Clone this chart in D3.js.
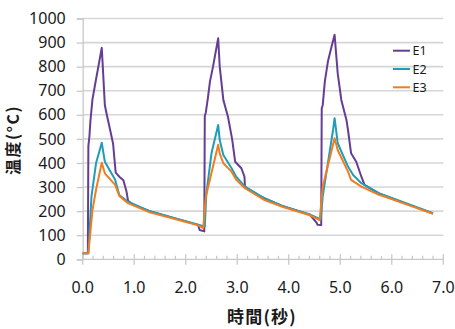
<!DOCTYPE html>
<html>
<head>
<meta charset="utf-8">
<script src="https://cdn.jsdelivr.net/npm/d3@7/dist/d3.min.js"></script>
<style>
  html, body { margin: 0; padding: 0; background: #fff; }
  svg { display: block; }
</style>
</head>
<body>
<svg id="chart" width="455" height="329"></svg>
<script>
// Temperature histories [time (s), temperature (°C)] for the three measuring points
const e1 = [[0,25],[0.10,25],[0.11,470],[0.13,510],[0.15,575],[0.19,665],[0.24,725],[0.37,878],[0.39,800],[0.43,640],[0.47,598],[0.53,540],[0.59,480],[0.64,360],[0.71,343],[0.79,328],[0.85,282],[0.88,243],[0.98,226],[1.30,200],[1.79,170],[2.24,143],[2.27,122],[2.36,116],[2.37,595],[2.39,610],[2.43,669],[2.47,738],[2.53,800],[2.63,918],[2.66,800],[2.73,662],[2.82,592],[2.90,500],[2.96,405],[3.08,378],[3.14,343],[3.15,302],[3.18,296],[3.44,262],[3.89,220],[4.41,185],[4.54,152],[4.56,143],[4.63,142],[4.64,627],[4.66,641],[4.70,738],[4.76,821],[4.83,883],[4.89,932],[4.95,773],[5.02,662],[5.12,579],[5.15,537],[5.21,440],[5.31,405],[5.41,343],[5.47,309],[5.76,272],[5.83,266],[6.34,226],[6.80,190]];
const e2 = [[0,25],[0.11,25],[0.17,260],[0.26,400],[0.37,484],[0.43,405],[0.63,330],[0.71,267],[0.88,239],[1.30,200],[1.79,171],[2.24,144],[2.37,136],[2.40,272],[2.50,440],[2.63,558],[2.66,495],[2.73,433],[2.89,378],[2.98,343],[3.15,302],[3.53,253],[3.89,221],[4.41,186],[4.62,166],[4.66,262],[4.86,537],[4.89,586],[4.95,482],[5.15,385],[5.25,350],[5.41,316],[5.76,274],[5.83,268],[6.34,228],[6.80,191]];
const e3 = [[0,25],[0.11,25],[0.19,205],[0.26,290],[0.37,401],[0.43,357],[0.63,309],[0.71,263],[0.88,233],[1.30,195],[1.79,167],[2.24,141],[2.34,129],[2.39,260],[2.63,476],[2.66,440],[2.73,399],[2.89,364],[2.98,330],[3.15,295],[3.53,246],[3.89,217],[4.41,183],[4.60,163],[4.66,302],[4.89,503],[4.95,454],[5.15,364],[5.21,330],[5.41,302],[5.76,267],[5.83,263],[6.34,224],[6.80,189]];

const seriesNames = ["E1", "E2", "E3"];
const seriesColors = ["#653d94", "#1f9db8", "#ef7d22"];
const yTicks = [0, 100, 200, 300, 400, 500, 600, 700, 800, 900, 1000];
const xTicks = [0, 1, 2, 3, 4, 5, 6, 7];
const xTitle = "時間(秒)";
const yTitle = "温度(°C)";

const series = [e1, e2, e3];

const svg = d3.select("#chart");
const plotLeft = 82.7, plotRight = 443.3, plotTop = 18.5, plotBottom = 259.3;

const x = d3.scaleLinear().domain([0, 7]).range([plotLeft, plotRight]);
const y = d3.scaleLinear().domain([0, 1000]).range([plotBottom, plotTop]);

const font = "'Noto Sans', 'DejaVu Sans', sans-serif";
const cjk = "'Noto Sans CJK JP', sans-serif";

// horizontal gridlines
svg.append("g").selectAll("line").data(yTicks.slice(1)).join("line")
  .attr("x1", plotLeft).attr("x2", plotRight)
  .attr("y1", d => y(d)).attr("y2", d => y(d))
  .attr("stroke", "#d6d6d6").attr("stroke-width", 1.6);

// y axis: line, outward ticks and labels
const yAxis = svg.append("g").attr("transform", `translate(${plotLeft},0)`)
  .call(d3.axisLeft(y).tickValues(yTicks).tickSize(6).tickPadding(11).tickFormat(d3.format("d")));
yAxis.select(".domain").attr("stroke", "#c8c8c8").attr("stroke-width", 1.3);
yAxis.selectAll(".tick line").attr("stroke", "#c8c8c8").attr("stroke-width", 1.3);
yAxis.selectAll(".tick text").attr("font-family", font).attr("font-size", 16).attr("fill", "#1a1a1a");

// x axis: minor ticks inside, major ticks crossing the axis
const xAxisG = svg.append("g").attr("transform", `translate(0,${plotBottom})`);
xAxisG.append("line").attr("x1", plotLeft).attr("x2", plotRight).attr("y1", 0).attr("y2", 0)
  .attr("stroke", "#c8c8c8").attr("stroke-width", 1.3);
const minor = d3.range(0, 7.0001, 0.2).filter(v => Math.abs(v - Math.round(v)) > 1e-6);
xAxisG.selectAll("line.minor").data(minor).join("line").attr("class", "minor")
  .attr("x1", d => x(d)).attr("x2", d => x(d)).attr("y1", -3.5).attr("y2", 0)
  .attr("stroke", "#c8c8c8").attr("stroke-width", 1.2);
xAxisG.selectAll("line.major").data(xTicks).join("line").attr("class", "major")
  .attr("x1", d => x(d)).attr("x2", d => x(d)).attr("y1", -5).attr("y2", 5.5)
  .attr("stroke", "#c8c8c8").attr("stroke-width", 1.3);
xAxisG.selectAll("text").data(xTicks).join("text")
  .attr("x", d => x(d)).attr("y", 28).attr("dy", "0.35em")
  .attr("text-anchor", "middle")
  .attr("font-family", font).attr("font-size", 16).attr("fill", "#1a1a1a")
  .text(d => d3.format(".1f")(d));

// temperature curves
const line = d3.line().x(d => x(d[0])).y(d => y(d[1]));
svg.append("g").selectAll("path").data(series).join("path")
  .attr("d", line)
  .attr("fill", "none")
  .attr("stroke", (d, i) => seriesColors[i])
  .attr("stroke-width", 2)
  .attr("stroke-linejoin", "round");

// legend
const legend = svg.append("g");
seriesNames.forEach((name, i) => {
  const ly = 50.7 + i * 18.3;
  legend.append("line").attr("x1", 393).attr("x2", 410).attr("y1", ly).attr("y2", ly)
    .attr("stroke", seriesColors[i]).attr("stroke-width", 2);
  legend.append("text").attr("x", 412.5).attr("y", ly).attr("dy", "0.36em")
    .attr("font-family", font).attr("font-size", 12.5).attr("fill", "#1a1a1a").text(name);
});

// axis titles
svg.append("text").attr("x", 262).attr("y", 317).attr("dy", "0.36em")
  .attr("text-anchor", "middle").attr("font-family", cjk).attr("font-weight", "bold")
  .attr("font-size", 17).attr("letter-spacing", 1.2).attr("fill", "#1a1a1a").text(xTitle);
svg.append("text").attr("transform", "translate(13,140) rotate(-90)").attr("dy", "0.36em")
  .attr("text-anchor", "middle").attr("font-family", cjk).attr("font-weight", "bold")
  .attr("font-size", 16).attr("letter-spacing", 1.5).attr("fill", "#1a1a1a").text(yTitle);
</script>
</body>
</html>
